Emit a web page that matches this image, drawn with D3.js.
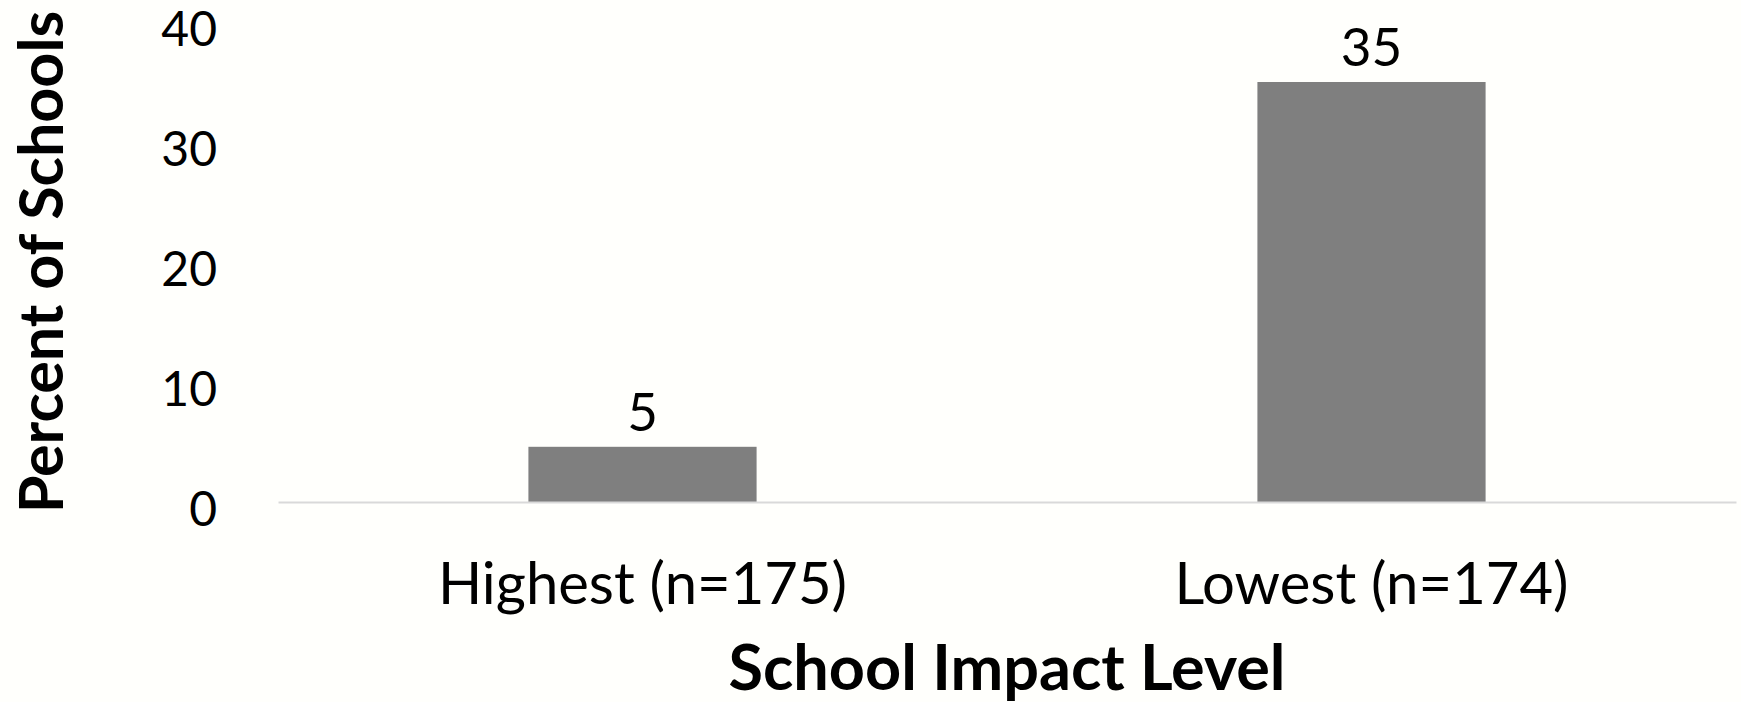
<!DOCTYPE html>
<html>
<head>
<meta charset="utf-8">
<script src="https://cdn.jsdelivr.net/npm/d3@7"></script>
<style>
  html, body { margin: 0; padding: 0; background: #fffffc; }
  svg { display: block; }
  text { font-family: Lato, "Open Sans", sans-serif; fill: #000; }
</style>
</head>
<body>
<svg id="chart" width="1741" height="702"></svg>
<script>
const categories = ["Highest (n=175)", "Lowest (n=174)"];
const values = [4.6, 35.0];
const dataLabels = ["5", "35"];
const yTicks = [0, 10, 20, 30, 40];
const xTitle = "School Impact Level";
const yTitle = "Percent of Schools";

const svg = d3.select("#chart");
const plotLeft = 278, plotRight = 1736, plotTop = 22, plotBottom = 502;

const x = d3.scaleBand().domain(categories).range([plotLeft, plotRight])
  .paddingInner(0.687).paddingOuter(0.3435);
const y = d3.scaleLinear().domain([0, 40]).range([plotBottom, plotTop]);

// y axis (labels only)
const yAxis = svg.append("g").attr("transform", `translate(${plotLeft},0)`)
  .call(d3.axisLeft(y).tickValues(yTicks).tickSize(0).tickPadding(61));
yAxis.select(".domain").remove();
yAxis.selectAll("text").style("font-family", "Lato, sans-serif").style("font-size", "48px").attr("dy", "0.48em");

// bars
svg.append("g").selectAll("rect").data(values).join("rect")
  .attr("x", (d, i) => x(categories[i]))
  .attr("y", d => y(d))
  .attr("width", x.bandwidth())
  .attr("height", d => y(0) - y(d))
  .attr("fill", "#7f7f7f");

// x axis
const xAxis = svg.append("g").attr("transform", `translate(0,${plotBottom})`)
  .call(d3.axisBottom(x).tickSize(0).tickPadding(61));
xAxis.select(".domain").attr("stroke", "#d9d9d9").attr("stroke-width", 2);
xAxis.selectAll("text").style("font-family", "Lato, sans-serif").style("font-size", "58px");

// data labels
svg.append("g").selectAll("text").data(values).join("text")
  .attr("x", (d, i) => x(categories[i]) + x.bandwidth() / 2)
  .attr("y", d => y(d) - 16)
  .attr("text-anchor", "middle")
  .style("font-size", "53px")
  .text((d, i) => dataLabels[i]);

// axis titles
svg.append("text")
  .attr("x", (plotLeft + plotRight) / 2)
  .attr("y", 690)
  .attr("text-anchor", "middle")
  .style("font-size", "63px").style("font-weight", "bold")
  .text(xTitle);

svg.append("text")
  .attr("transform", `translate(63,262) rotate(-90)`)
  .attr("text-anchor", "middle")
  .style("font-size", "61px").style("font-weight", "bold")
  .text(yTitle);
</script>
</body>
</html>
